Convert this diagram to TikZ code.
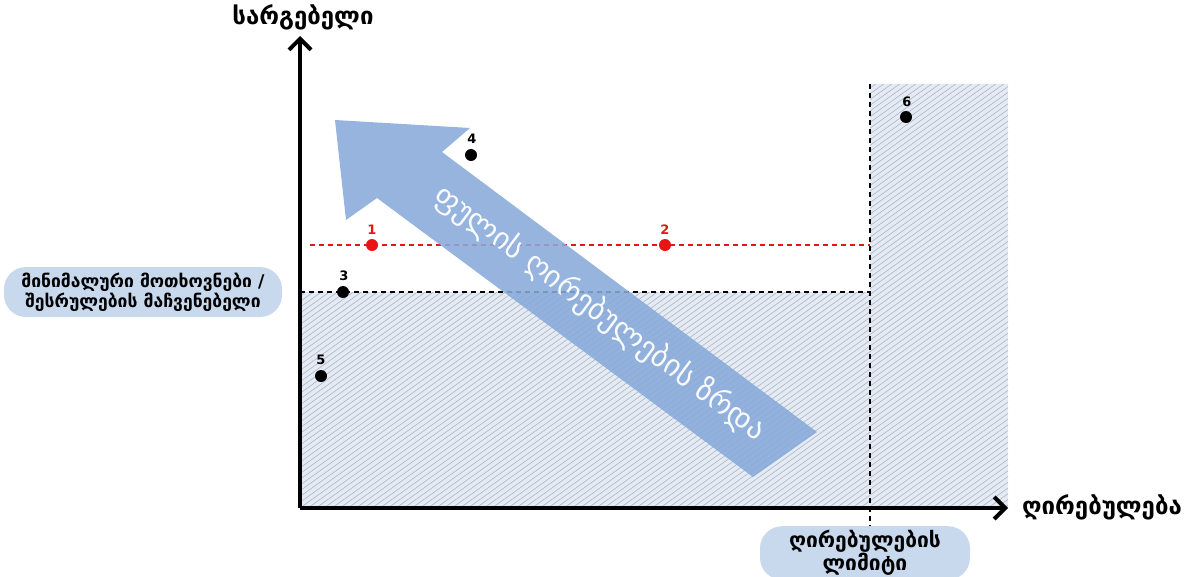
\documentclass[tikz,border=0pt]{standalone}
\usepackage{fontspec}
\setmainfont{DejaVu Sans}
\usetikzlibrary{arrows.meta}
\definecolor{hatchbg}{RGB}{228,235,245}
\definecolor{hatchln}{RGB}{175,181,192}
\definecolor{arrowblue}{RGB}{135,170,218}
\definecolor{boxblue}{RGB}{200,217,238}
\definecolor{ptred}{RGB}{235,20,20}
\tikzset{
  axis/.style={line width=4pt,-{Straight Barb[length=11pt,width=22pt,line width=4pt]}},
  pt/.style={circle,fill=black,inner sep=0pt,minimum size=12pt},
  redpt/.style={pt,fill=ptred},
  ptlabel/.style={font=\bfseries\fontsize{13}{14}\selectfont,inner sep=1pt},
  axlabel/.style={font=\bfseries\fontsize{24}{26}\selectfont},
  tagbox/.style={rounded corners=22pt,fill=boxblue,align=center,inner xsep=8pt,inner ysep=4pt},
  blackdash/.style={dash pattern=on 5pt off 4pt,line width=1.4pt},
  reddash/.style={blackdash,draw=ptred},
}
\begin{document}
\begin{tikzpicture}[x=1pt,y=-1pt]
\useasboundingbox (0,0) rectangle (1185,576);
% hatched regions
\fill[hatchbg] (300,292) rectangle (870,508);
\fill[hatchbg] (870,84) rectangle (1008,508);
\begin{scope}
  \clip (300,292) rectangle (870,508) (870,84) rectangle (1008,508);
  \foreach \i in {0,...,170}{
    \draw[hatchln,line width=0.6pt] ({\i*8-300},508) -- ++(600,-430);
  }
\end{scope}
% coordinates
\coordinate (O) at (300,508);
\coordinate (Ytop) at (300,36);
\coordinate (Xend) at (1008,508);
\coordinate (bl0) at (300,292);
\coordinate (bl1) at (870,292);
\coordinate (rl0) at (310,245);
\coordinate (rl1) at (870,245);
\coordinate (vl0) at (870,84);
% dashed lines
\draw[blackdash] (bl0) -- (bl1);
\draw[reddash] (rl0) -- (rl1);
% big arrow
\fill[arrowblue,opacity=0.88] (817,432) -- (442,152) -- (470,128) -- (335,120) -- (346,220) -- (377,198) -- (753,477) -- cycle;
\node[text=white!95!arrowblue,font=\fontsize{30}{31}\selectfont,rotate=-36.7] (arrowtxt) at (600,313) {ფულის ღირებულების ზრდა};
% axes
\draw[axis] (O) -- (Ytop);
\draw[axis] (O) -- (Xend);
% points
\node[redpt] (p1) at (372,245) {};
\node[redpt] (p2) at (665,245) {};
\node[pt] (p3) at (343,292) {};
\node[pt] (p4) at (471,155) {};
\node[pt] (p5) at (321,376) {};
\node[pt] (p6) at (906,117) {};
\node[ptlabel,text=ptred] at (372,230) {1};
\node[ptlabel,text=ptred] at (665,230) {2};
\node[ptlabel] at (344,276) {3};
\node[ptlabel] at (472,139) {4};
\node[ptlabel] at (321,360) {5};
\node[ptlabel] at (907,102) {6};
% axis labels
\node[axlabel] (ylab) at (303,17) {სარგებელი};
\node[axlabel] (xlab) at (1102,507) {ღირებულება};
% boxes
\node[tagbox,minimum width=278pt,minimum height=50pt,font=\bfseries\fontsize{17.5}{18}\selectfont] (minbox) at (143,292) {მინიმალური მოთხოვნები /\\შესრულების მაჩვენებელი};
\node[tagbox,minimum width=210pt,minimum height=48pt,font=\bfseries\fontsize{21}{20}\selectfont] (limbox) at (865,553) {ღირებულების\\ლიმიტი};
\draw[blackdash] (vl0) -- (limbox.north -| vl0);
\end{tikzpicture}
\end{document}
